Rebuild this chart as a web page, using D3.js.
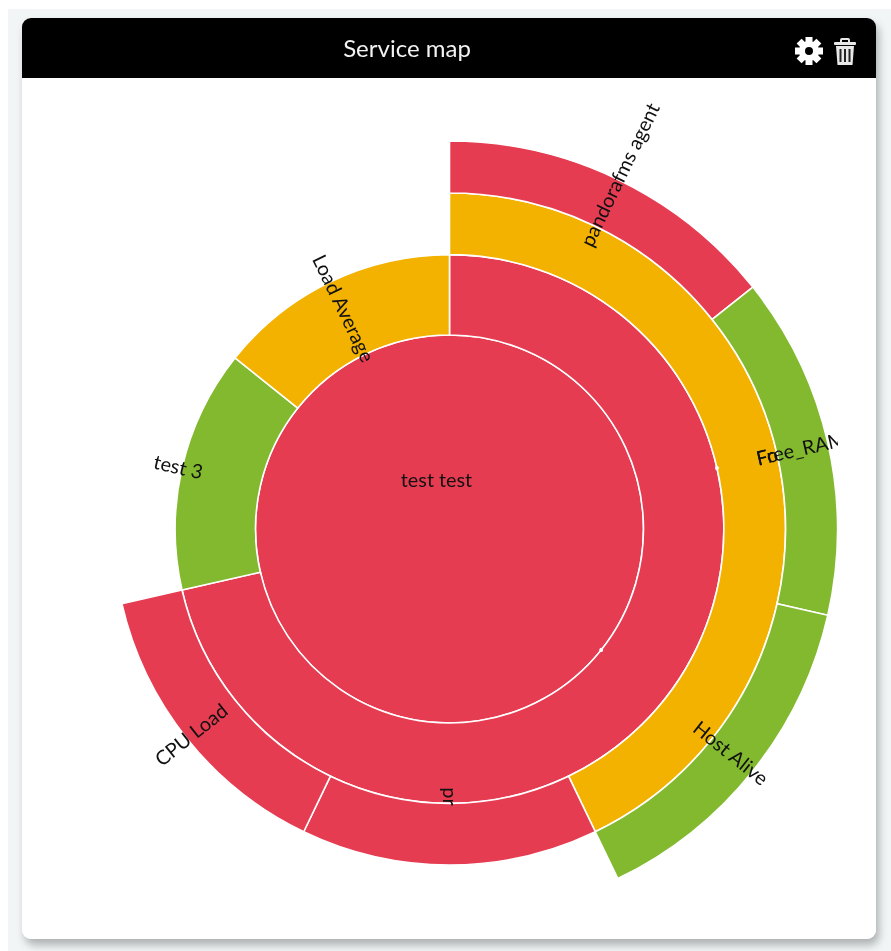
<!DOCTYPE html>
<html>
<head>
<meta charset="utf-8">
<script src="https://cdn.jsdelivr.net/npm/d3@7"></script>
<style>
html, body { margin: 0; padding: 0; background: #fff; overflow: hidden; }
body { filter: blur(0.45px); height: 951px; }
#page { position: absolute; left: 8px; top: 9px; width: 883px; height: 942px; background: #f1f5f5; }
#card {
    position: absolute; left: 22px; top: 18px; width: 854px; height: 921px;
    background: #fff; border-radius: 9px; overflow: hidden;
}
#shadow {
    position: absolute; left: 22px; top: 18px; width: 854px; height: 921px;
    border-radius: 9px; box-shadow: 3px 6px 9px rgba(0, 0, 0, 0.28);
}
#header { position: absolute; left: 0; top: 0; width: 100%; height: 60px; background: #000; }
#title {
    position: absolute; left: 0; top: 0; width: 770px; text-align: center; line-height: 60px;
    font-family: Lato, sans-serif; font-size: 24px; color: #f2f2f2;
}
#icons { position: absolute; left: 0; top: 0; }
#canvas { position: absolute; left: 0; top: 0; }
#canvas svg { display: block; overflow: hidden; }
</style>
</head>
<body>
<div id="page"></div>
<div id="shadow"></div>
<div id="card">
    <div id="header"><div id="title">Service map</div><svg id="icons" width="854" height="60"></svg></div>
    <div id="canvas"></div>
</div>
<script>
"use strict"

/*The tree of the service map, one entry per node*/
let nodeIds = ["root", "pr_group", "agent_group", "agent", "free_ram", "host_alive", "pr", "cpu_load", "test_3", "load_average"];
let nodeParents = ["", "root", "pr_group", "agent_group", "agent_group", "agent_group", "pr_group", "pr_group", "root", "root"];
let nodeNames = ["test test", "", "Fo", "pandorafms agent", "Free_RAM", "Host Alive", "pr", "CPU Load", "test 3", "Load Average"];
let nodeStatus = ["critical", "critical", "warning", "critical", "ok", "ok", "critical", "critical", "ok", "warning"];
let nodeValues = [0, 0, 0, 1, 1, 1, 1, 1, 1, 1];

/*Status colours*/
let statusNames = ["critical", "warning", "ok"];
let statusColors = ["#e63c52", "#f3b200", "#82b92e"];

/*Size of the canvas, it stops short of the card's right edge and cuts Free_RAM as in the original*/
let svgWidth = 816;
let svgHeight = 921;
let centerX = 427.5;
let centerY = 511;
let radius = 388;

let color = d3.scaleOrdinal().domain(statusNames).range(statusColors);

let rows = nodeIds.map(function (id, i) {
    return { id: id, parent: nodeParents[i], name: nodeNames[i], status: nodeStatus[i], value: nodeValues[i] };
});

let root = d3.stratify()
    .id(function (d) { return d.id; })
    .parentId(function (d) { return d.parent; })(rows)
    .sum(function (d) { return d.value; });

/*Partition on radius squared so every ring has the same area*/
d3.partition().size([2 * Math.PI, radius * radius])(root);

let outerRadius = function (d) { return Math.sqrt(d.y1); };
let innerRadius = function (d) { return Math.sqrt(d.y0); };

let arc = d3.arc()
    .startAngle(function (d) { return d.x0; })
    .endAngle(function (d) { return d.x1; })
    .innerRadius(innerRadius)
    .outerRadius(outerRadius);

let svg = d3.select("#canvas")
    .append("svg")
    .attr("width", svgWidth)
    .attr("height", svgHeight);

let chart = svg.append("g")
    .attr("transform", "translate(" + centerX + "," + centerY + ")");

/*The rings*/
chart.selectAll("path")
    .data(root.descendants())
    .join("path")
    .attr("d", arc)
    .attr("fill", function (d) { return color(d.data.status); })
    .attr("stroke", "#fff")
    .attr("stroke-width", 1.6);

function middleDegrees(d) {
    return (d.x0 + d.x1) / 2 * 180 / Math.PI;
}

/*Where a label starts along its spoke, the left half reads inwards*/
function labelRadius(d) {
    if (middleDegrees(d) > 180) {
        return d.depth === 1 ? innerRadius(d) + 109 : innerRadius(d) + 99;
    }
    if (d.children) {
        return outerRadius(d) - 21;
    }
    return d.depth === 2 ? innerRadius(d) - 16 : innerRadius(d) - 21;
}

function labelTransform(d) {
    let angle = middleDegrees(d);
    let flip = angle > 180 ? " rotate(180)" : "";
    return "rotate(" + (angle - 90) + ") translate(" + labelRadius(d) + ",0)" + flip;
}

let labelled = root.descendants().filter(function (d) { return d.depth > 0 && d.data.name !== ""; });

chart.selectAll("text.label")
    .data(labelled)
    .join("text")
    .attr("class", "label")
    .attr("transform", labelTransform)
    .attr("dy", "0.35em")
    .style("font-family", "Lato, sans-serif")
    .style("font-size", "19.8px")
    .style("fill", "#111")
    .text(function (d) { return d.data.name; });

/*The centre label stays flat*/
chart.append("text")
    .attr("x", -13)
    .attr("y", -49)
    .attr("dy", "0.35em")
    .style("text-anchor", "middle")
    .style("font-family", "Lato, sans-serif")
    .style("font-size", "19.8px")
    .style("fill", "#111")
    .text(root.data.name);

/*Small white specks left where the group nodes have no readable label*/
chart.selectAll("circle.speck")
    .data(root.descendants().filter(function (d) { return d.children && d.depth > 0; }))
    .join("circle")
    .attr("class", "speck")
    .attr("r", 2)
    .attr("fill", "#fff")
    .attr("transform", function (d) {
        return "rotate(" + (middleDegrees(d) - 90) + ") translate(" + innerRadius(d) + ",0)";
    });

/*Header icons*/
let icons = d3.select("#icons");

let gear = icons.append("g").attr("transform", "translate(787,33)");
for (let i = 0; i < 8; i++) {
    gear.append("rect")
        .attr("x", -3.5)
        .attr("y", -14)
        .attr("width", 7)
        .attr("height", 8)
        .attr("fill", "#fff")
        .attr("transform", "rotate(" + i * 45 + ")");
}
gear.append("circle").attr("r", 7).attr("fill", "none").attr("stroke", "#fff").attr("stroke-width", 6);

let trash = icons.append("g").attr("transform", "translate(812,20)");
trash.append("rect").attr("x", 0).attr("y", 4).attr("width", 22).attr("height", 3).attr("rx", 1).attr("fill", "#e8e8e8");
trash.append("rect").attr("x", 7).attr("y", 1).attr("width", 8).attr("height", 4).attr("rx", 1).attr("fill", "none").attr("stroke", "#e8e8e8").attr("stroke-width", 2);
trash.append("path").attr("d", "M2,8 L3.5,27 L18.5,27 L20,8 Z").attr("fill", "#e8e8e8");
[6.5, 11, 15.5].forEach(function (x) {
    trash.append("rect").attr("x", x - 1).attr("y", 11).attr("width", 2).attr("height", 13).attr("fill", "#222");
});
</script>
</body>
</html>
